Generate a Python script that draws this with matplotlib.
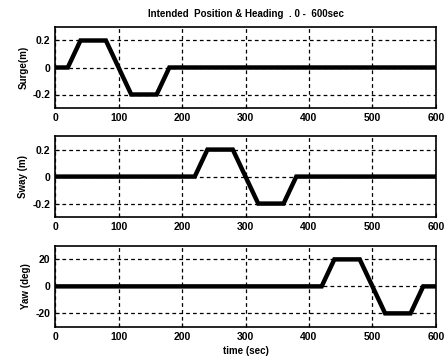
import matplotlib
matplotlib.use("Agg")
import matplotlib.pyplot as plt

t = [0, 20, 40, 80, 120, 160, 180, 600]
surge = [0, 0, 0.2, 0.2, -0.2, -0.2, 0, 0]
t_sway = [0, 220, 240, 280, 320, 360, 380, 600]
sway = [0, 0, 0.2, 0.2, -0.2, -0.2, 0, 0]
t_yaw = [0, 420, 440, 480, 520, 560, 580, 600]
yaw = [0, 0, 20, 20, -20, -20, 0, 0]

xticks = [0, 100, 200, 300, 400, 500, 600]

fig = plt.figure(figsize=(4.48, 3.6), dpi=100)
plt.rcParams['font.family'] = ['Liberation Sans', 'DejaVu Sans']

specs = [
    (0.700, t, surge, 'Surge(m)', (-0.3, 0.3), [-0.2, 0, 0.2], ['-0.2', '0', '0.2']),
    (0.397, t_sway, sway, 'Sway (m)', (-0.3, 0.3), [-0.2, 0, 0.2], ['-0.2', '0', '0.2']),
    (0.092, t_yaw, yaw, 'Yaw (deg)', (-30, 30), [-20, 0, 20], ['-20', '0', '20']),
]

axes = []
for bottom, x, y, lab, ylim, yt, ytl in specs:
    ax = fig.add_axes([0.123, bottom, 0.850, 0.225])
    ax.plot(x, y, color='black', linewidth=3.2, solid_joinstyle='miter')
    ax.set_xlim(0, 600)
    ax.set_ylim(*ylim)
    ax.set_xticks(xticks)
    ax.set_yticks(yt)
    ax.set_yticklabels(ytl)
    ax.grid(True, color='black', linestyle=(0, (3, 2.5)), linewidth=0.9)
    ax.set_ylabel(lab, fontsize=7, fontweight='bold', labelpad=3)
    ax.tick_params(labelsize=7.5, direction='in', length=3, width=0.8)
    for lbl in ax.get_xticklabels() + ax.get_yticklabels():
        lbl.set_fontweight('bold')
    for s in ax.spines.values():
        s.set_linewidth(1.2)
    axes.append(ax)

axes[0].set_title('Intended  Position & Heading  . 0 -  600sec', fontsize=7,
                  fontweight='bold', pad=7)
axes[2].set_xlabel('time (sec)', fontsize=7, fontweight='bold', labelpad=3)

fig.savefig('out.png', dpi=100)
